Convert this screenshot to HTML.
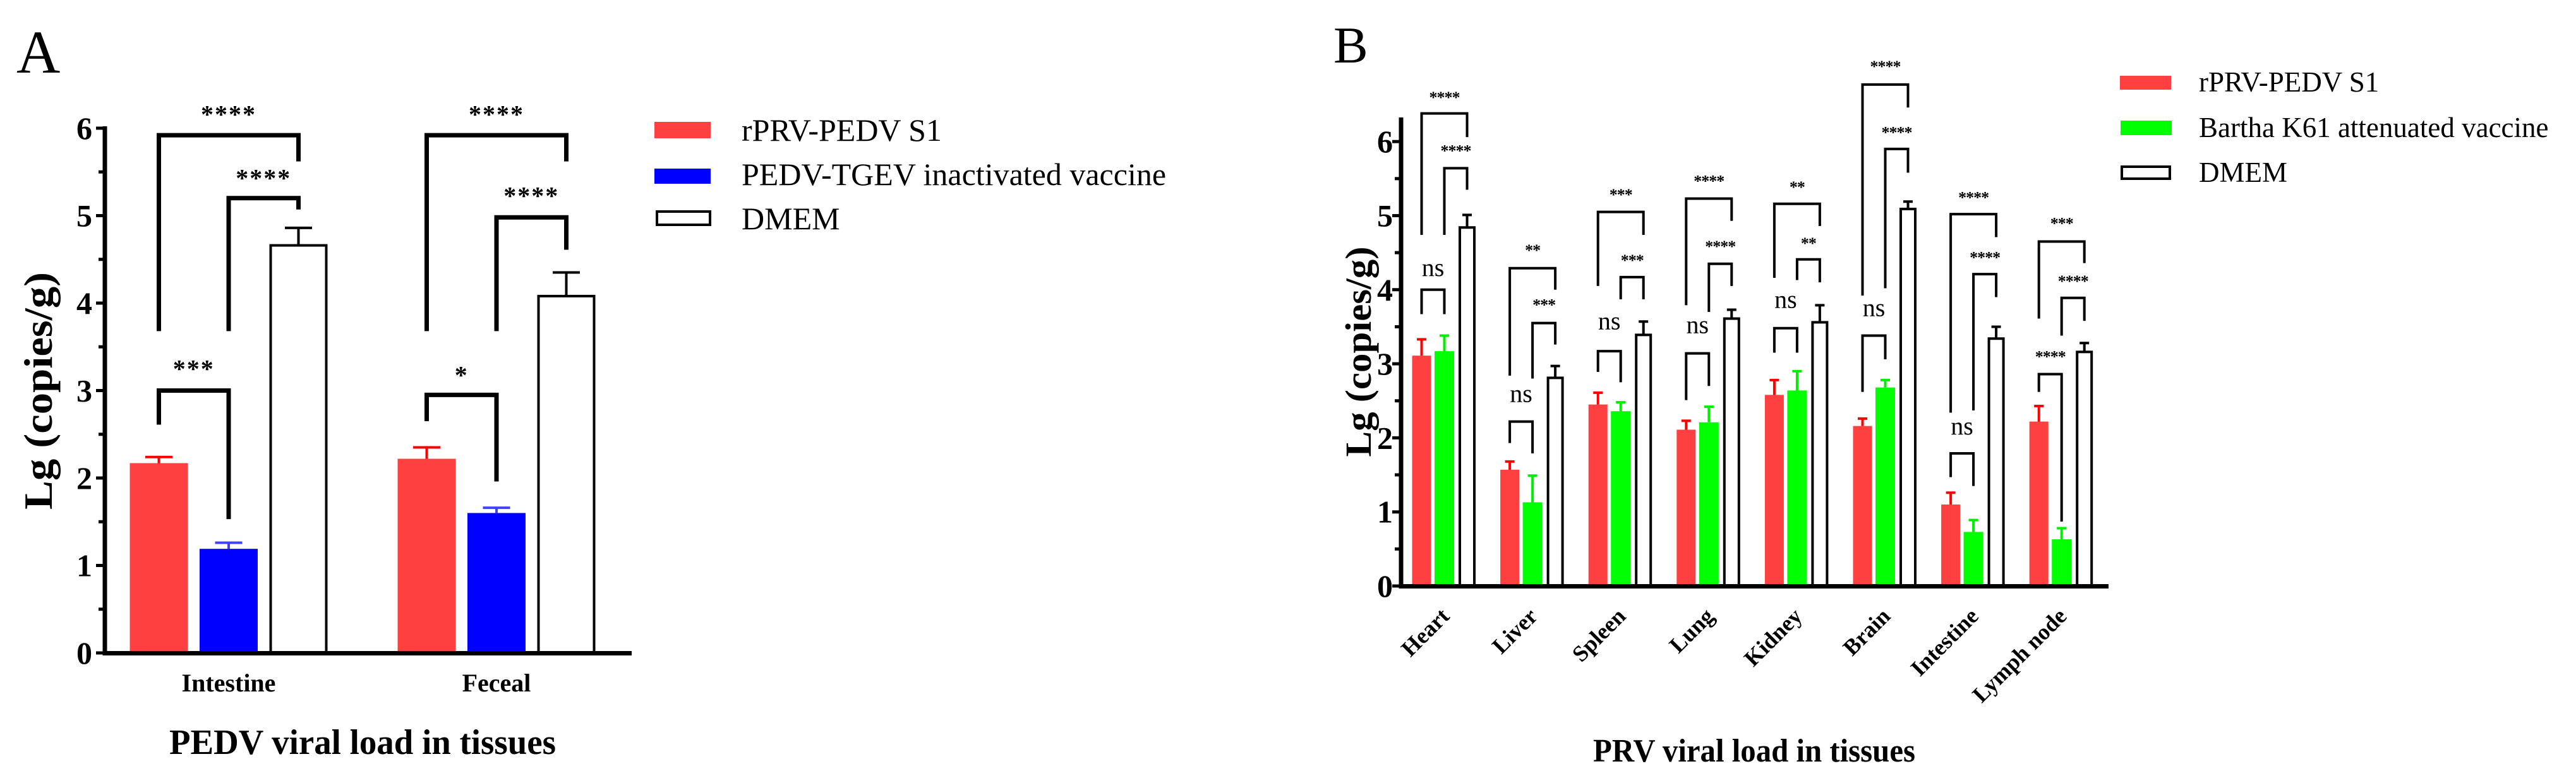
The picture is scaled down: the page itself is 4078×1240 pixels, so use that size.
<!DOCTYPE html>
<html><head><meta charset="utf-8"><style>
html,body{margin:0;padding:0;background:#fff;}
svg{display:block;}
text{font-family:"Liberation Serif",serif;}
</style></head><body>
<svg id="fig" width="4078" height="1240" viewBox="0 0 4078 1240" xmlns="http://www.w3.org/2000/svg">
<g id="panelA"></g>
<g id="panelB"></g>
</svg>
<script>
// ---------- Panel A data ----------
const catsA = ["Intestine", "Feceal"];
const seriesA = ["rPRV-PEDV S1", "PEDV-TGEV inactivated vaccine", "DMEM"];
const meanA0 = [2.17, 2.22];
const meanA1 = [1.19, 1.60];
const meanA2 = [4.66, 4.08];
const errA0 = [0.07, 0.13];
const errA1 = [0.07, 0.06];
const errA2 = [0.20, 0.27];
const ticksA = [0, 1, 2, 3, 4, 5, 6];
const bracketGroupA = [0, 0, 0, 1, 1, 1];
const bracketFromA = [0, 1, 0, 0, 1, 0];
const bracketToA = [2, 2, 1, 2, 2, 1];
const bracketTopA = [5.92, 5.20, 3.00, 5.92, 4.98, 2.95];
const bracketLeftA = [3.68, 3.68, 2.61, 3.68, 3.68, 2.65];
const bracketRightA = [5.62, 5.07, 1.53, 5.62, 4.61, 1.96];
const bracketLabelA = ["****", "****", "***", "****", "****", "*"];
const bracketLabelYA = [6.22, 5.49, 3.31, 6.22, 5.29, 3.24];

// ---------- Panel B data ----------
const catsB = ["Heart", "Liver", "Spleen", "Lung", "Kidney", "Brain", "Intestine", "Lymph node"];
const seriesB = ["rPRV-PEDV S1", "Bartha K61 attenuated vaccine", "DMEM"];
const meanB0 = [3.11, 1.57, 2.45, 2.11, 2.58, 2.16, 1.10, 2.22];
const meanB1 = [3.17, 1.13, 2.36, 2.21, 2.64, 2.68, 0.73, 0.63];
const meanB2 = [4.84, 2.81, 3.39, 3.61, 3.56, 5.09, 3.34, 3.16];
const errB0 = [0.22, 0.11, 0.16, 0.12, 0.20, 0.10, 0.16, 0.21];
const errB1 = [0.21, 0.36, 0.12, 0.21, 0.26, 0.10, 0.16, 0.15];
const errB2 = [0.17, 0.16, 0.18, 0.12, 0.23, 0.10, 0.16, 0.12];
const ticksB = [0, 1, 2, 3, 4, 5, 6];
const bracketGroupB = [0,0,0, 1,1,1, 2,2,2, 3,3,3, 4,4,4, 5,5,5, 6,6,6, 7,7,7];
const bracketFromB = [0,1,0, 0,1,0, 0,1,0, 0,1,0, 0,1,0, 0,1,0, 0,1,0, 0,1,0];
const bracketToB = [2,2,1, 2,2,1, 2,2,1, 2,2,1, 2,2,1, 2,2,1, 2,2,1, 2,2,1];
const bracketTopB = [6.38,5.64,4.00, 4.29,3.55,2.22, 5.05,4.17,3.17, 5.23,4.35,3.14, 5.16,4.41,3.48, 6.77,5.90,3.38, 5.02,4.21,1.79, 4.65,3.89,2.86];
const bracketLeftB = [4.74,4.74,3.67, 2.84,2.80,1.93, 4.05,3.87,2.89, 3.79,3.70,2.51, 4.16,4.13,3.15, 3.92,4.02,2.62, 2.34,2.37,1.47, 3.61,3.38,2.62];
const bracketRightB = [6.06,5.35,3.67, 4.00,3.26,1.79, 4.74,3.87,2.75, 4.93,4.05,2.70, 4.86,4.10,3.15, 6.46,5.58,3.06, 4.71,3.90,1.35, 4.36,3.58,0.87];
const bracketLabelB = ["****","****","ns", "**","***","ns", "***","***","ns", "****","****","ns", "**","**","ns", "****","****","ns", "****","****","ns", "***","****","****"];
const bracketLabelYB = [6.64,5.92,4.27, 4.58,3.84,2.57, 5.33,4.44,3.55, 5.51,4.63,3.50, 5.43,4.67,3.84, 7.06,6.17,3.73, 5.29,4.48,2.13, 4.94,4.16,3.14];

const NS = "http://www.w3.org/2000/svg";
function mk(parent, tag, attrs, txt) {
  const e = document.createElementNS(NS, tag);
  for (const k in attrs) e.setAttribute(k, attrs[k]);
  if (txt !== undefined) e.textContent = txt;
  parent.appendChild(e);
  return e;
}

function drawPanel(cfg) {
  const g = cfg.g;
  const y = v => cfg.y0 - v * cfg.unit;
  const x = (gi, si) => cfg.gx0 + gi * cfg.gstep + (si - 1) * cfg.sstep;
  const means = cfg.means, errs = cfg.errs;
  for (let si = 0; si < 3; si++) {
    for (let gi = 0; gi < cfg.cats.length; gi++) {
      const cx = x(gi, si), w = cfg.bw[si], v = means[si][gi];
      const r = mk(g, "rect", {});
      
      
      if (si === 2) {
        const sw = cfg.wstroke;
        r.setAttribute("x", cx - w / 2 + sw / 2); r.setAttribute("width", w - sw);
        r.setAttribute("y", y(v)); r.setAttribute("height", y(0) - y(v));
        r.setAttribute("fill", "#fff"); r.setAttribute("stroke", "#000"); r.setAttribute("stroke-width", sw);
      } else {
        r.setAttribute("x", cx - w / 2); r.setAttribute("width", w);
        r.setAttribute("y", y(v)); r.setAttribute("height", y(0) - y(v));
        r.setAttribute("fill", cfg.fill[si]);
      }
      const ec = cfg.ecol[si];
      const top = y(v + errs[si][gi]);
      const eb = mk(g, "path", {d: `M${cx},${y(v)}V${top}M${cx - cfg.cap / 2},${top}H${cx + cfg.cap / 2}`, stroke: ec, "stroke-width": cfg.estroke, fill: "none"});
      
      
    }
  }
  const ax = mk(g, "path", {d: `M${cfg.axX},${y(0)}V${cfg.axTop}M${cfg.axX - cfg.axW / 2},${y(0) + cfg.axW / 2 - 3}H${cfg.axEnd}`, stroke: "#000", "stroke-width": cfg.axW, fill: "none"});
  
  
  cfg.ticks.forEach((t, i) => {
    let d = `M${cfg.axX},${y(t)}H${cfg.axX - 14}`;
    if (i < cfg.ticks.length - 1) d += `M${cfg.axX},${y(t + 0.5)}H${cfg.axX - 10}`;
    const tk = mk(g, "path", {d: d, stroke: "#000", "stroke-width": 5});
    
    
    const tl = mk(g, "text", {x: cfg.tickRight, y: y(t) + 17, "text-anchor": "end", "font-size": 50, "font-weight": "bold"}, String(t));
    
    
  });
  for (let i = 0; i < cfg.bGroup.length; i++) {
    const gi = cfg.bGroup[i];
    const x1 = x(gi, cfg.bFrom[i]), x2 = x(gi, cfg.bTo[i]);
    const p = mk(g, "path", {d: `M${x1},${y(cfg.bLeft[i])}V${y(cfg.bTop[i])}H${x2}V${y(cfg.bRight[i])}`, stroke: "#000", "stroke-width": cfg.bW, fill: "none"});
    
    
    const lab = cfg.bLabel[i];
    const isNs = lab === "ns";
    const t = mk(g, "text", {x: (x1 + x2) / 2, y: y(cfg.bLabelY[i]) + (isNs ? cfg.nsOff : cfg.starOff), "text-anchor": "middle",
      "font-size": isNs ? cfg.nsSize : cfg.starSize, "font-weight": isNs ? "normal" : "bold"}, lab);
    if (!isNs) t.setAttribute("letter-spacing", cfg.starLS);
    
    
  }
  return {x, y};
}

const gA = document.getElementById("panelA");
const A = drawPanel({g: gA, cats: catsA, means: [meanA0, meanA1, meanA2], errs: [errA0, errA1, errA2],
  y0: 1034, unit: 138.5, gx0: 362, gstep: 424, sstep: 110.5, bw: [92, 92, 92], wstroke: 4,
  fill: ["#ff4040", "#0000ff"], ecol: ["#ff0000", "#4040ff", "#000"], cap: 43, estroke: 4,
  axX: 166, axTop: 200, axW: 7, axEnd: 1000, ticks: ticksA, tickRight: 146,
  bGroup: bracketGroupA, bFrom: bracketFromA, bTo: bracketToA, bTop: bracketTopA, bLeft: bracketLeftA, bRight: bracketRightA,
  bLabel: bracketLabelA, bLabelY: bracketLabelYA, bW: 7, starSize: 40, starOff: 22, starLS: 2, nsSize: 40, nsOff: 10});
catsA.forEach((c, i) => {
  const t = mk(gA, "text", {x: A.x(i, 1), y: 1095, "text-anchor": "middle", "font-size": 40, "font-weight": "bold"}, c);
  
  
});

const gB = document.getElementById("panelB");
const B = drawPanel({g: gB, cats: catsB, means: [meanB0, meanB1, meanB2], errs: [errB0, errB1, errB2],
  y0: 928, unit: 117.3, gx0: 2286.5, gstep: 139.6, sstep: 36, bw: [30, 31, 27], wstroke: 4,
  fill: ["#ff4040", "#00ff00"], ecol: ["#ff0000", "#00ee00", "#000"], cap: 15, estroke: 4,
  axX: 2218, axTop: 186, axW: 7, axEnd: 3338, ticks: ticksB, tickRight: 2205,
  bGroup: bracketGroupB, bFrom: bracketFromB, bTo: bracketToB, bTop: bracketTopB, bLeft: bracketLeftB, bRight: bracketRightB,
  bLabel: bracketLabelB, bLabelY: bracketLabelYB, bW: 4, starSize: 26, starOff: 14, starLS: -1, nsSize: 40, nsOff: 10});
catsB.forEach((c, i) => {
  const cx = B.x(i, 1) + 10;
  const t = mk(gB, "text", {x: cx, y: 978, "text-anchor": "end", "font-size": 36, "font-weight": "bold", transform: `rotate(-45 ${cx} 978)`}, c);
  
  
});
</script>
<svg style="position:absolute;left:0;top:0" width="4078" height="1240">
  <text x="26" y="115" font-size="96" font-family="Liberation Serif, serif">A</text>
  <text x="2111" y="99" font-size="82" font-family="Liberation Serif, serif">B</text>
  <text transform="translate(82 619) rotate(-90)" text-anchor="middle" font-size="64" font-weight="bold" font-family="Liberation Serif, serif" textLength="376" lengthAdjust="spacingAndGlyphs">Lg (copies/g)</text>
  <text x="574" y="1194" text-anchor="middle" font-size="56" font-weight="bold" font-family="Liberation Serif, serif" textLength="612" lengthAdjust="spacingAndGlyphs">PEDV viral load in tissues</text>
  <text transform="translate(2170 557) rotate(-90)" text-anchor="middle" font-size="58" font-weight="bold" font-family="Liberation Serif, serif" textLength="333" lengthAdjust="spacingAndGlyphs">Lg (copies/g)</text>
  <text x="2777" y="1206" text-anchor="middle" font-size="52" font-weight="bold" font-family="Liberation Serif, serif" textLength="510" lengthAdjust="spacingAndGlyphs">PRV viral load in tissues</text>
  <g font-family="Liberation Serif, serif" font-size="50">
    <rect x="1036" y="193" width="89" height="26" fill="#ff4040"/>
    <text x="1174" y="223">rPRV-PEDV S1</text>
    <rect x="1036" y="267" width="89" height="24" fill="#0000ff"/>
    <text x="1174" y="293">PEDV-TGEV inactivated vaccine</text>
    <rect x="1040" y="335" width="84" height="21" fill="#fff" stroke="#000" stroke-width="4"/>
    <text x="1174" y="363">DMEM</text>
  </g>
  <g font-family="Liberation Serif, serif" font-size="45">
    <rect x="3356" y="120" width="81" height="22" fill="#ff4040"/>
    <text x="3481" y="145">rPRV-PEDV S1</text>
    <rect x="3357" y="191" width="81" height="23" fill="#00ff00"/>
    <text x="3481" y="217">Bartha K61 attenuated vaccine</text>
    <rect x="3359" y="264" width="76" height="19" fill="#fff" stroke="#000" stroke-width="4"/>
    <text x="3481" y="288">DMEM</text>
  </g>
</svg>
</body></html>
